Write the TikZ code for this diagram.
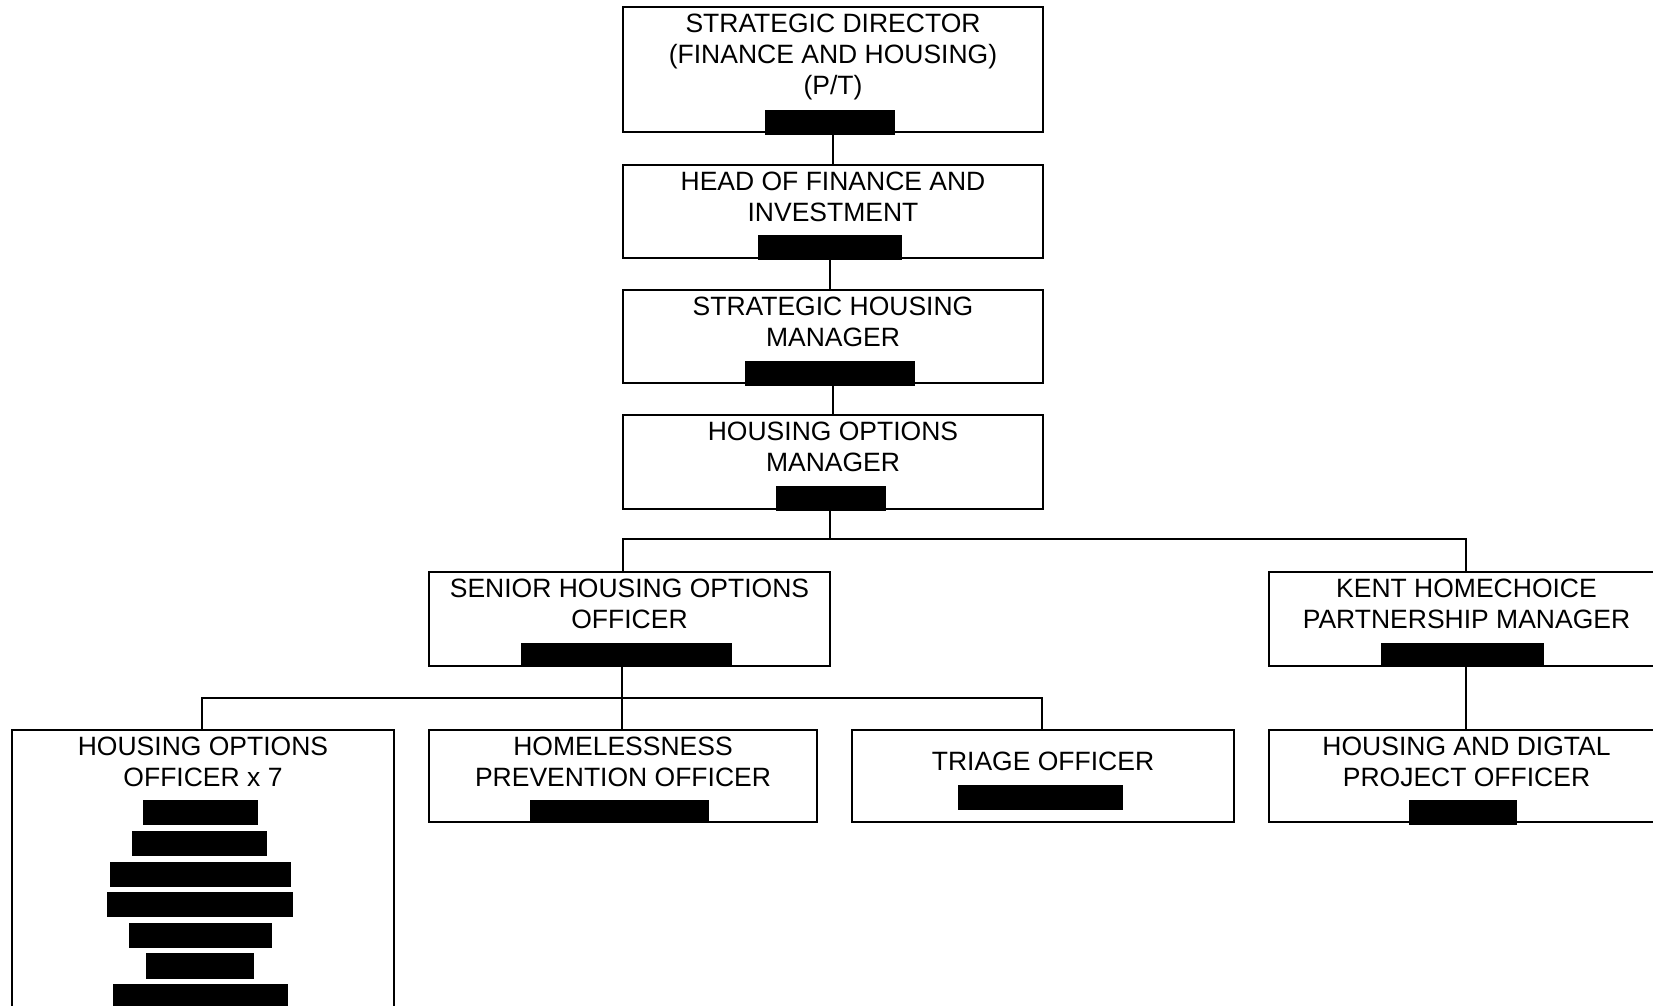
\documentclass[tikz,border=0pt]{standalone}
\usepackage{fontspec}
\setmainfont{Liberation Sans}
\begin{document}
\begin{tikzpicture}[x=1pt,y=-1pt,
  box/.style={draw=black, line width=1.8pt, rectangle, inner sep=0pt},
  bar/.style={fill=black, draw=none, rectangle, inner sep=0pt, minimum height=25pt},
  txt/.style={inner sep=0pt, align=center, anchor=north, font=\fontsize{26.5}{31}\selectfont},
  link/.style={draw=black, line width=1.8pt}]
\clip (0,0) rectangle (1653,1005);

% ---- boxes ----
\node[box, minimum width=420pt, minimum height=125pt] (b1) at (833,69.5) {};
\node[box, minimum width=420pt, minimum height=93pt] (b2) at (833,211.5) {};
\node[box, minimum width=420pt, minimum height=93pt] (b3) at (833,336.5) {};
\node[box, minimum width=420pt, minimum height=94pt] (b4) at (833,462) {};
\node[box, minimum width=401pt, minimum height=94pt] (senior) at (629.5,619) {};
\node[box, minimum width=401pt, minimum height=94pt] (kh) at (1469.5,619) {};
\node[box, minimum width=382pt, minimum height=370pt] (ho) at (203,915) {};
\node[box, minimum width=388pt, minimum height=92pt] (hp) at (623,776) {};
\node[box, minimum width=382pt, minimum height=92pt] (triage) at (1043,776) {};
\node[box, minimum width=401pt, minimum height=92pt] (hd) at (1469.5,776) {};

% ---- titles ----
\node[txt] (b1t) at ([yshift=-8pt]b1.north) {STRATEGIC DIRECTOR\\(FINANCE AND HOUSING)\\(P/T)};
\node[txt] (b2t) at ([yshift=-8pt]b2.north) {HEAD OF FINANCE AND\\INVESTMENT};
\node[txt] (b3t) at ([yshift=-8pt]b3.north) {STRATEGIC HOUSING\\MANAGER};
\node[txt] (b4t) at ([yshift=-8pt]b4.north) {HOUSING OPTIONS\\MANAGER};
\node[txt] (seniort) at ([yshift=-8pt]senior.north) {SENIOR HOUSING OPTIONS\\OFFICER};
\node[txt] (kht) at ([yshift=-8pt,xshift=-3pt]kh.north) {KENT HOMECHOICE\\PARTNERSHIP MANAGER};
\node[txt] (hot) at ([yshift=-8pt]ho.north) {HOUSING OPTIONS\\OFFICER x 7};
\node[txt] (hpt) at ([yshift=-8pt]hp.north) {HOMELESSNESS\\PREVENTION OFFICER};
\node[txt] (triaget) at ([yshift=-23pt]triage.north) {TRIAGE OFFICER};
\node[txt] (hdt) at ([yshift=-8pt,xshift=-3pt]hd.north) {HOUSING AND DIGTAL\\PROJECT OFFICER};

% ---- connectors ----
\coordinate (t0) at (830,539);
\coordinate (t1) at (623,539);
\coordinate (t2) at (1466,539);
\coordinate (u0) at (622,698);
\coordinate (u1) at (202,698);
\coordinate (u2) at (1042,698);
\draw[link] (b1.south) -- (b2.north);
\draw[link] ([xshift=-3pt]b2.south) -- ([xshift=-3pt]b3.north);
\draw[link] (b3.south) -- (b4.north);
\draw[link] ([xshift=-3pt]b4.south) -- (t0);
\draw[link] (senior.north -| t1) -- (t1) -- (t2) -- (kh.north -| t2);
\draw[link] (senior.south -| u0) -- (hp.north -| u0);
\draw[link] (ho.north -| u1) -- (u1) -- (u2) -- (triage.north -| u2);
\draw[link] (kh.south -| t2) -- (hd.north -| t2);

% ---- redaction bars ----
\node[bar, minimum width=130pt] (b1bar) at (830,122.5) {};
\node[bar, minimum width=144pt] (b2bar) at (830,247.5) {};
\node[bar, minimum width=170pt] (b3bar) at (830,373.5) {};
\node[bar, minimum width=110pt] (b4bar) at (831,498.5) {};
\node[bar, minimum width=211pt, minimum height=24pt] (seniorbar) at (626.5,655) {};
\node[bar, minimum width=163pt, minimum height=24pt] (khbar) at (1462.5,655) {};
\node[bar, minimum width=179pt, minimum height=23pt] (hpbar) at (619.5,811.5) {};
\node[bar, minimum width=165pt] (triagebar) at (1040.5,797.5) {};
\node[bar, minimum width=108pt] (hdbar) at (1463,812.5) {};
\node[bar, minimum width=115pt] (hobar1) at (200.5,812.5) {};
\node[bar, minimum width=135pt] (hobar2) at (199.5,843.5) {};
\node[bar, minimum width=181pt] (hobar3) at (200.5,874.5) {};
\node[bar, minimum width=186pt] (hobar4) at (200,904.5) {};
\node[bar, minimum width=143pt] (hobar5) at (200.5,935.5) {};
\node[bar, minimum width=108pt, minimum height=26pt] (hobar6) at (200,966) {};
\node[bar, minimum width=175pt] (hobar7) at (200.5,996.5) {};
\end{tikzpicture}
\end{document}
